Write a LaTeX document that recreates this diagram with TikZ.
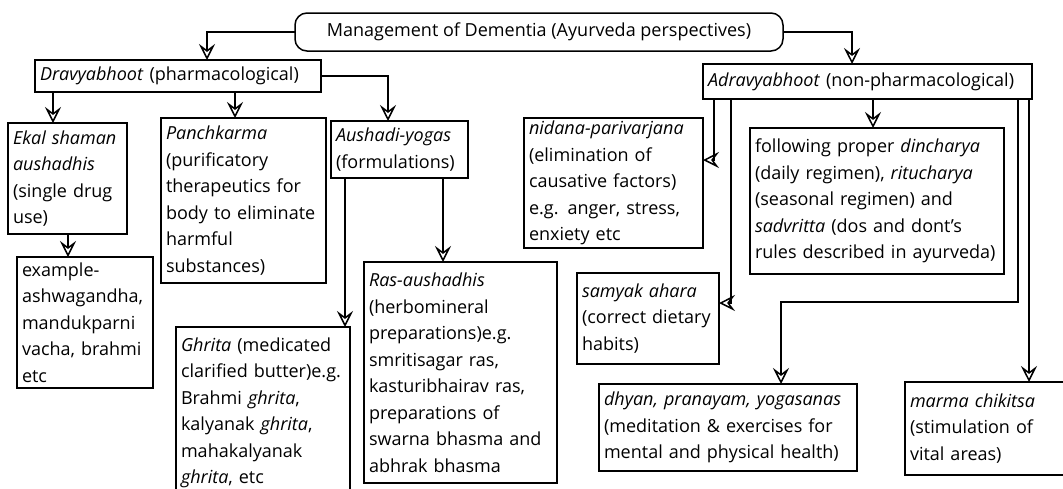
\documentclass[tikz,border=0pt]{standalone}
\usepackage{fontspec}
\setmainfont{Open Sans}
\usetikzlibrary{positioning}
\usetikzlibrary{arrows.meta}

\tikzset{
  boite/.style={draw, line width=1.5pt, anchor=north west, align=left, inner xsep=5pt, inner ysep=2pt, outer sep=0pt},
  fleche/.style={line width=1.5pt, -{Stealth[open, length=16pt, width=16pt, inset=6pt]}}
}

\begin{document}
\begin{tikzpicture}[x=1pt, y=-1pt, font=\fontsize{18}{26.5}\selectfont]
\useasboundingbox (0,0) rectangle (1063,488);
\clip (0,0) rectangle (1063,488);

% Titre
\node[boite, rounded corners=12pt, align=center, minimum width=488pt, minimum height=38pt] (M) at (295,13) {Management of Dementia (Ayurveda perspectives)};

% Niveau 1
\node[boite, text width=276pt, minimum height=32pt] (D) at (35,60) {\textit{Dravyabhoot} (pharmacological)};
\node[boite, text width=319pt, minimum height=35pt] (A) at (703,64) {\textit{Adravyabhoot} (non-pharmacological)};

% Niveau 2 : Dravyabhoot
\node[boite, text width=109pt, minimum height=111pt] (EK) at (8,123) {\textit{Ekal shaman}\\\textit{aushadhis}\\(single drug\\use)};
\node[boite, text width=155pt, minimum height=165pt] (PK) at (161,118) {\textit{Panchkarma}\\(purificatory\\therapeutics for\\body to eliminate\\harmful\\substances)};
\node[boite, text width=127pt, minimum height=57pt] (AY) at (331,121) {\textit{Aushadi-yogas}\\(formulations)};

% Niveau 3 : Dravyabhoot
\node[boite, text width=126pt, minimum height=131pt] (EX) at (17,257) {example-\\ashwagandha,\\mandukparni\\vacha, brahmi\\etc};
\node[boite, text width=164pt, minimum height=172pt] (GH) at (176,327) {\textit{Ghrita} (medicated\\clarified butter)e.g.\\Brahmi \textit{ghrita},\\kalyanak \textit{ghrita},\\mahakalyanak\\\textit{ghrita}, etc};
\node[boite, text width=183pt, minimum height=221pt] (RA) at (364,262) {\textit{Ras-aushadhis}\\(herbomineral\\preparations)e.g.\\smritisagar ras,\\kasturibhairav ras,\\preparations of\\swarna bhasma and\\abhrak bhasma};

% Niveau 2 : Adravyabhoot
\node[boite, text width=169pt, minimum height=130pt] (NP) at (524,118) {\textit{nidana-parivarjana}\\(elimination of\\causative factors)\\e.g. anger, stress,\\enxiety etc};
\node[boite, text width=244pt, minimum height=146pt] (DC) at (750,128) {following proper \textit{dincharya}\\(daily regimen), \textit{ritucharya}\\(seasonal regimen) and\\\textit{sadvritta} (dos and dont's\\rules described in ayurveda)};
\node[boite, text width=132pt, minimum height=91pt] (SA) at (577,273) {\textit{samyak ahara}\\(correct dietary\\habits)};
\node[boite, text width=248pt, minimum height=87pt] (DY) at (599,384) {\textit{dhyan, pranayam, yogasanas}\\(meditation \& exercises for\\mental and physical health)};
\node[boite, text width=160pt, minimum height=93pt] (MC) at (905,382) {\textit{marma chikitsa}\\(stimulation of\\vital areas)};

% Branches du titre
\draw[fleche] (M.west) -| ([xshift=172pt]D.north west);
\draw[fleche] (M.east) -| ([xshift=149pt]A.north west);

% Branches de Dravyabhoot
\draw[fleche] ([xshift=18pt]D.south west) -- ([xshift=18pt]D.south west |- EK.north);
\draw[fleche] ([xshift=200pt]D.south west) -- ([xshift=200pt]D.south west |- PK.north);
\draw[fleche] (D.east) -| ([xshift=57pt]AY.north west);
\draw[fleche] ([xshift=60pt]EK.south west) -- ([xshift=60pt]EK.south west |- EX.north);
\draw[fleche] ([xshift=14pt]AY.south west) -- ([xshift=14pt]AY.south west |- GH.north);
\draw[fleche] ([xshift=112pt]AY.south west) -- ([xshift=112pt]AY.south west |- RA.north);

% Branches de Adravyabhoot
\coordinate (coude) at (1018,302);
\draw[fleche] ([xshift=11pt]A.south west) |- ([yshift=-42pt]NP.north east);
\draw[fleche] ([xshift=28pt]A.south west) |- ([yshift=-30pt]SA.north east);
\draw[fleche] ([xshift=170pt]A.south west) -- ([xshift=170pt]A.south west |- DC.north);
\draw[fleche] ([xshift=-14pt]A.south east) -- (coude) -| ([xshift=182pt]DY.north west);
\draw[fleche] ([xshift=-3pt]A.south east) -- ([xshift=-3pt]A.south east |- MC.north);

\end{tikzpicture}
\end{document}
